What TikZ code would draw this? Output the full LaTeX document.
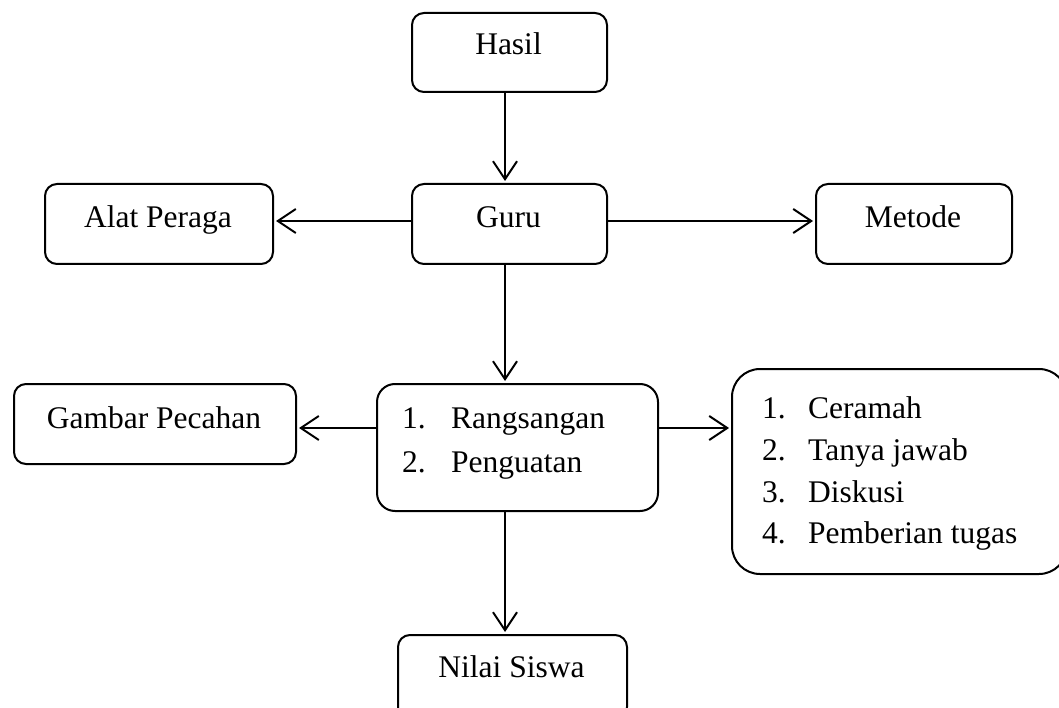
\documentclass[tikz,border=0pt]{standalone}
\usepackage{fontspec}
\setmainfont{Liberation Serif}
\usetikzlibrary{arrows.meta}
\begin{document}
\begin{tikzpicture}[x=1pt,y=-1pt,
  box/.style={draw, line width=2pt, rounded corners=12pt, inner sep=0pt, anchor=north west},
  txt/.style={anchor=base, inner sep=0pt, font=\fontsize{31.5}{38}\selectfont},
  txtl/.style={anchor=base west, inner sep=0pt, font=\fontsize{31.5}{38}\selectfont},
  arr/.style={line width=2pt, shorten >=2pt, -{Straight Barb[length=18pt,width=24pt,line width=2pt]}}]
\useasboundingbox (0,0) rectangle (1059,708);
\clip (0,0) rectangle (1059,708);
% boxes
\node[box, minimum width=195pt, minimum height=79pt] (hasil) at (411,12) {};
\node[box, minimum width=195pt, minimum height=80pt] (guru) at (411,183) {};
\node[box, minimum width=228pt, minimum height=80pt] (alat) at (44,183) {};
\node[box, minimum width=196pt, minimum height=80pt] (metode) at (815,183) {};
\node[box, rounded corners=18pt, minimum width=281pt, minimum height=127pt] (ctr) at (376,383) {};
\node[box, minimum width=282pt, minimum height=80pt] (gambar) at (13,383) {};
\node[box, rounded corners=28pt, minimum width=335pt, minimum height=205pt] (right) at (731,368) {};
\node[box, minimum width=229pt, minimum height=84pt] (nilai) at (397,634) {};
\coordinate (axis) at (505,0);
% connectors
\draw[arr] (hasil.south -| axis) -- (guru.north -| axis);
\draw[arr] ([yshift=3pt]guru.west) -- ([yshift=3pt]guru.west -| alat.east);
\draw[arr] ([yshift=3pt]guru.east) -- ([yshift=3pt]guru.east -| metode.west);
\draw[arr] (guru.south -| axis) -- (ctr.north -| axis);
\draw[arr] ([yshift=19.5pt]ctr.west) -- ([yshift=19.5pt]ctr.west -| gambar.east);
\draw[arr] ([yshift=19.5pt]ctr.east) -- ([yshift=19.5pt]ctr.east -| right.west);
\draw[arr] (ctr.south -| axis) -- (nilai.north -| axis);
% texts
\node[txt] (t-hasil) at (508.5,55) {Hasil};
\node[txt] (t-guru) at (508.5,228) {Guru};
\node[txt] (t-alat) at (158,228) {Alat Peraga};
\node[txt] (t-metode) at (913,228) {Metode};
\node[txt] (t-gambar) at (154,428) {Gambar Pecahan};
\node[txtl] (c-n1) at (402,428) {1.};
\node[txtl] (c-t1) at (451,428) {Rangsangan};
\node[txtl] (c-n2) at (402,472) {2.};
\node[txtl] (c-t2) at (451,472) {Penguatan};
\node[txtl] (r-n1) at (762,418) {1.};
\node[txtl] (r-t1) at (808,418) {Ceramah};
\node[txtl] (r-n2) at (762,460) {2.};
\node[txtl] (r-t2) at (808,460) {Tanya jawab};
\node[txtl] (r-n3) at (762,502) {3.};
\node[txtl] (r-t3) at (808,502) {Diskusi};
\node[txtl] (r-n4) at (762,543) {4.};
\node[txtl] (r-t4) at (808,543) {Pemberian tugas};
\node[txt] (t-nilai) at (511.5,677) {Nilai Siswa};
\end{tikzpicture}
\end{document}
